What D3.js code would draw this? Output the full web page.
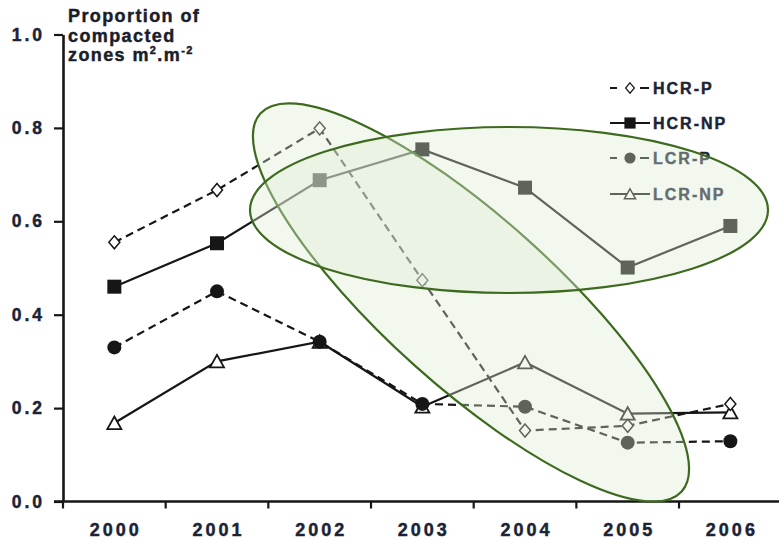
<!DOCTYPE html>
<html>
<head>
<meta charset="utf-8">
<script src="https://cdn.jsdelivr.net/npm/d3@7"></script>
<style>
  html, body { margin: 0; padding: 0; background: #fff; }
  svg { display: block; }
  text { font-family: "Liberation Sans", Arial, sans-serif; font-weight: bold; }
</style>
</head>
<body>
<svg id="chart" width="779" height="539"></svg>
<script>
// Years on the x axis
const years = ["2000", "2001", "2002", "2003", "2004", "2005", "2006"];
// Proportion of compacted zones (m².m⁻²) per treatment
const hcrP  = [0.555, 0.667, 0.799, 0.474, 0.152, 0.162, 0.209];
const hcrNP = [0.460, 0.553, 0.688, 0.754, 0.672, 0.501, 0.590];
const lcrP  = [0.330, 0.450, 0.342, 0.209, 0.203, 0.126, 0.129];
const lcrNP = [0.168, 0.300, 0.342, 0.203, 0.298, 0.188, 0.191];
const yTicks = [0, 0.2, 0.4, 0.6, 0.8, 1.0];
const seriesNames = ["HCR-P", "HCR-NP", "LCR-P", "LCR-NP"];

const svg = d3.select("#chart");
const ink = "#161616";
const labelInk = "#1c2336";

const x = d3.scaleBand().domain(years).range([63, 781.7]).padding(0);
const y = d3.scaleLinear().domain([0, 1]).range([501.5, 34.5]);

function heavy(sel, color) {
  sel.attr("fill", color).attr("stroke", color).attr("stroke-width", 0.45)
     .attr("font-family", "Liberation Sans, Arial, sans-serif").attr("font-weight", "bold");
}

// ---- axes ----
const yAxis = d3.axisLeft(y).tickValues(yTicks).tickFormat(d3.format(".1f"))
  .tickSize(9).tickSizeOuter(0).tickPadding(9);
const gy = svg.append("g").attr("transform", "translate(63,0)").call(yAxis);
gy.select(".domain").attr("stroke", ink).attr("stroke-width", 2.6);
gy.selectAll(".tick line").attr("stroke", ink).attr("stroke-width", 2.2);
gy.selectAll(".tick text").attr("font-size", 17.5).attr("letter-spacing", "3px")
  .call(heavy, labelInk);

const xAxis = d3.axisBottom(x).tickSize(0).tickPadding(22).tickSizeOuter(0);
const gx = svg.append("g").attr("transform", "translate(0,501.5)").call(xAxis);
gx.select(".domain").attr("stroke", ink).attr("stroke-width", 2.6)
  .attr("d", `M54,0H779`);
gx.selectAll(".tick text").attr("font-size", 18).attr("letter-spacing", "3px")
  .attr("dx", "1.5px").call(heavy, labelInk);
// tick marks sit on the category boundaries
gx.selectAll("line.bound").data(years).enter().append("line")
  .attr("class", "bound")
  .attr("x1", d => x(d)).attr("x2", d => x(d))
  .attr("y1", 0).attr("y2", 7)
  .attr("stroke", ink).attr("stroke-width", 2.2);

// ---- axis title ----
const title = svg.append("text").attr("x", 68)
  .attr("font-size", 18).attr("letter-spacing", "1.4px").call(heavy, "#1a1d2a");
title.append("tspan").attr("x", 68).attr("y", 22).text("Proportion of");
title.append("tspan").attr("x", 68).attr("y", 41.5).text("compacted");
title.append("tspan").attr("x", 68).attr("y", 61).text("zones m");
title.append("tspan").attr("font-size", 11).attr("dy", -7).text("2");
title.append("tspan").attr("dy", 7).text(".m");
title.append("tspan").attr("font-size", 11).attr("dy", -7).text("-2");

// ---- series ----
const symbols = {
  diamond: g => g.append("path").attr("d", "M0,-6.5L5.5,0L0,6.5L-5.5,0Z")
      .attr("fill", "#fff").attr("stroke", ink).attr("stroke-width", 1.5),
  square: g => g.append("rect").attr("x", -7).attr("y", -7).attr("width", 14).attr("height", 14)
      .attr("fill", ink),
  circle: g => g.append("circle").attr("r", 7).attr("fill", ink),
  triangle: g => g.append("path").attr("d", "M0,-6.5L7,6L-7,6Z")
      .attr("fill", "#fff").attr("stroke", ink).attr("stroke-width", 1.8)
};

const series = [
  { name: "LCR-NP", values: lcrNP, dash: null, sym: "triangle" },
  { name: "LCR-P",  values: lcrP,  dash: "8,5", sym: "circle" },
  { name: "HCR-NP", values: hcrNP, dash: null, sym: "square" },
  { name: "HCR-P",  values: hcrP,  dash: "8,5", sym: "diamond" }
];

const line = d3.line().x(d => x(d.year) + x.bandwidth() / 2).y(d => y(d.v));

series.forEach(s => {
  const pts = years.map((yr, i) => ({ year: yr, v: s.values[i] }));
  svg.append("path").datum(pts).attr("d", line)
    .attr("fill", "none").attr("stroke", ink).attr("stroke-width", 2.2)
    .attr("stroke-dasharray", s.dash);
  const mg = svg.append("g");
  pts.forEach(p => {
    const g = mg.append("g").attr("transform",
      `translate(${x(p.year) + x.bandwidth() / 2},${y(p.v)})`);
    symbols[s.sym](g);
  });
});

// ---- legend ----
const legendOrder = [
  { name: seriesNames[0], dash: "7,9,7", sym: "diamond" },
  { name: seriesNames[1], dash: null, sym: "square" },
  { name: seriesNames[2], dash: "7,9,7", sym: "circle" },
  { name: seriesNames[3], dash: null, sym: "triangle" }
];
const legendY = [88, 123, 158, 194];
legendOrder.forEach((l, i) => {
  const g = svg.append("g").attr("transform", `translate(610,${legendY[i]})`);
  g.append("line").attr("x1", 0).attr("x2", 40).attr("y1", 0).attr("y2", 0)
    .attr("stroke", ink).attr("stroke-width", 2.2).attr("stroke-dasharray", l.dash);
  const m = g.append("g").attr("transform", "translate(20,0) scale(0.8)");
  symbols[l.sym](m);
  g.append("text").attr("x", 43).attr("y", 6).attr("font-size", 16)
    .attr("letter-spacing", "2px").call(heavy, labelInk).text(l.name);
});

// ---- highlighted groups (translucent ellipses) ----
const hl = svg.append("g");
hl.append("ellipse")
  .attr("cx", 471).attr("cy", 302.5).attr("rx", 283).attr("ry", 84.5)
  .attr("transform", "rotate(41.9,471,302.5)")
  .attr("fill", "rgb(223,235,212)").attr("fill-opacity", 0.37)
  .attr("stroke", "#3e6a20").attr("stroke-width", 2.2);
hl.append("ellipse")
  .attr("cx", 509).attr("cy", 210).attr("rx", 259).attr("ry", 83)
  .attr("fill", "rgb(223,235,212)").attr("fill-opacity", 0.37)
  .attr("stroke", "#3e6a20").attr("stroke-width", 2.2);
</script>
</body>
</html>
